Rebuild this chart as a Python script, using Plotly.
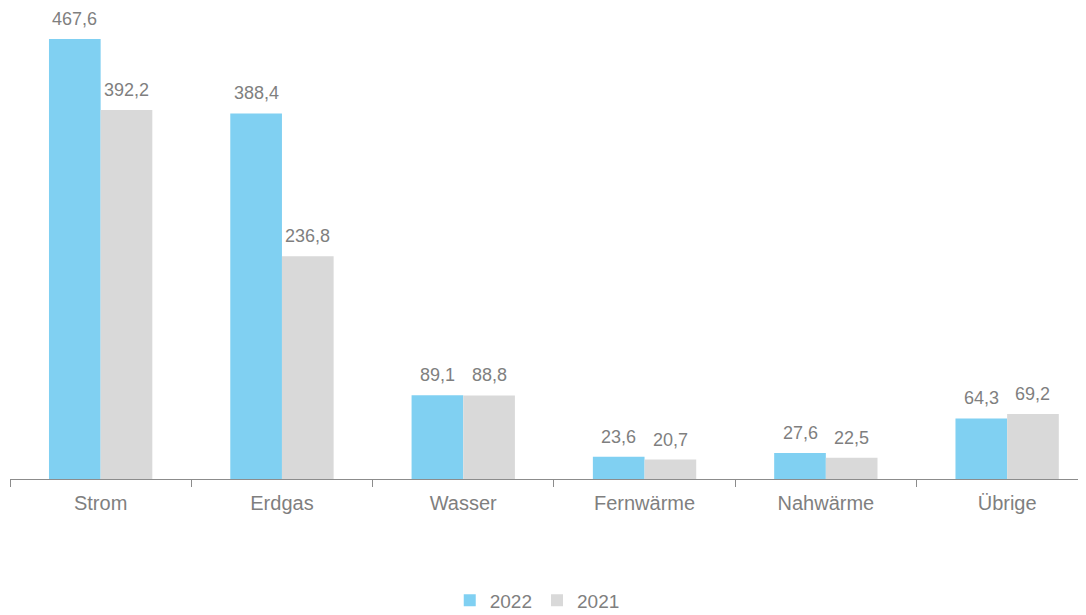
import plotly.graph_objects as go

categories = ["Strom", "Erdgas", "Wasser", "Fernwärme", "Nahwärme", "Übrige"]
values_2022 = [467.6, 388.4, 89.1, 23.6, 27.6, 64.3]
values_2021 = [392.2, 236.8, 88.8, 20.7, 22.5, 69.2]
series_names = ["2022", "2021"]

TEXT = "#7f7f7f"
FONT = "Liberation Sans, Arial, sans-serif"
BAR_HALF = 25.8  # half of a bar width in px, for label centring

fig = go.Figure()
fig.add_trace(go.Bar(
    name=series_names[0], x=categories, y=values_2022,
    marker=dict(color="#80D0F2", line=dict(width=0)),
))
fig.add_trace(go.Bar(
    name=series_names[1], x=categories, y=values_2021,
    marker=dict(color="#D9D9D9", line=dict(width=0)),
))

def fmt(v):
    return f"{v:.1f}".replace(".", ",")

for vals, shift in ((values_2022, -BAR_HALF), (values_2021, BAR_HALF)):
    for c, v in zip(categories, vals):
        fig.add_annotation(x=c, y=v, text=fmt(v), showarrow=False,
                           xshift=shift, yshift=20, yanchor="middle",
                           font=dict(size=18, color=TEXT, family=FONT))

fig.update_layout(
    width=1078, height=607,
    margin=dict(l=2, r=0, t=0, b=136, autoexpand=False),
    paper_bgcolor="white", plot_bgcolor="white",
    separators=",.",
    barmode="group", bargap=0.43, bargroupgap=0,
    font=dict(family=FONT, color=TEXT, size=18),
    showlegend=True,
    legend=dict(orientation="h", x=0.49, xanchor="center", y=-0.258, yanchor="middle",
                font=dict(size=19, color=TEXT), itemwidth=30, traceorder="normal"),
)
fig.update_xaxes(
    range=[-0.5, 5.435], showline=True, linecolor="#8c8c8c", linewidth=1,
    ticks="outside", tickson="boundaries", ticklen=7, tickcolor="#8c8c8c",
    tickfont=dict(size=20, color=TEXT), ticklabelstandoff=6, showgrid=False,
)
fig.update_yaxes(range=[0, 500.5], visible=False, showgrid=False)

fig.write_html("out.html")
